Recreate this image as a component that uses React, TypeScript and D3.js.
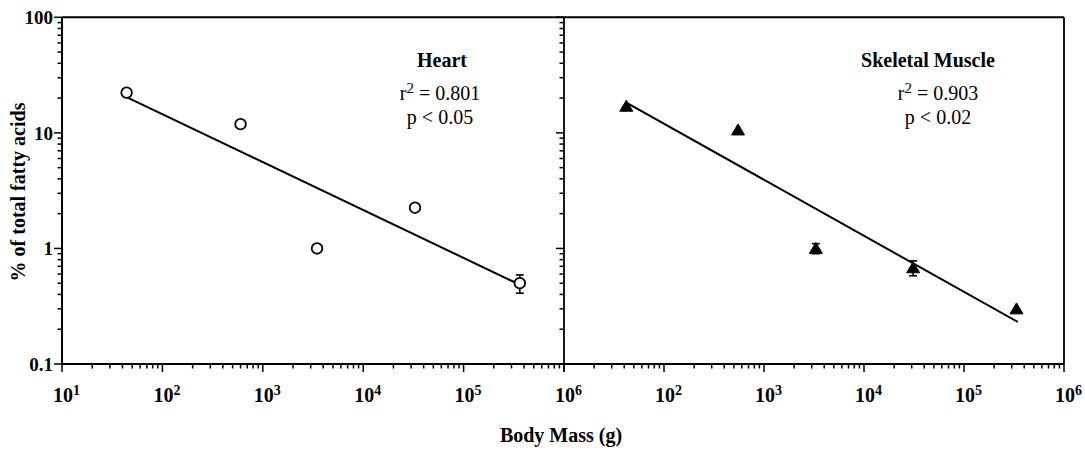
import React from "react";
import * as d3 from "d3";

// ---- data ----
const heartMass = [44, 600, 3470, 32800, 363000];
const heartPct = [22.3, 11.9, 1.0, 2.25, 0.5];
const heartErr = [0, 0, 0, 0, 0.09];
const heartFitRange = [45, 330000];

const muscleMass = [42, 550, 3300, 31000, 335000];
const musclePct = [17, 10.6, 1.0, 0.68, 0.3];
const muscleErr = [0, 0, 0.1, 0.1, 0];
const muscleFitRange = [42, 345000];

const leftTickExps = [1, 2, 3, 4, 5, 6];
const rightTickExps = [2, 3, 4, 5, 6];
const yTickValues = [0.1, 1, 10, 100];
const yTickLabels = ["0.1", "1", "10", "100"];

const panelTitles = ["Heart", "Skeletal Muscle"];
const panelR2 = ["0.801", "0.903"];
const panelP = ["p < 0.05", "p < 0.02"];

const xTitle = "Body Mass (g)";
const yTitle = "% of total fatty acids";

// ---- layout ----
const W = 1085;
const H = 454;
const top = 17.3;
const bottom = 364;
const leftX0 = 62;
const midX = 564;
const rightX1 = 1064;
const FONT = "'Liberation Serif', 'DejaVu Serif', serif";

function fit(xs: number[], ys: number[]) {
  const lx = xs.map(Math.log10);
  const ly = ys.map(Math.log10);
  const mx = d3.mean(lx) as number;
  const my = d3.mean(ly) as number;
  let sxy = 0, sxx = 0;
  lx.forEach((v, i) => {
    sxy += (v - mx) * (ly[i] - my);
    sxx += (v - mx) * (v - mx);
  });
  const slope = sxy / sxx;
  return (x: number) => Math.pow(10, my + slope * (Math.log10(x) - mx));
}

const y = d3.scaleLog().domain([0.1, 100]).range([bottom, top]);
const xL = d3.scaleLog().domain([10, 1e6]).range([leftX0, midX]);
const xR = d3.scaleLog().domain([10, 1e6]).range([midX, rightX1]);

function minorTicks(lo: number, hi: number) {
  const out: number[] = [];
  for (let e = lo; e < hi; e++) {
    for (let m = 2; m <= 9; m++) out.push(m * Math.pow(10, e));
  }
  return out;
}

function Panel({ x, mass, pct, err, fitRange, kind, titleX, lineX, idx }: any) {
  const f = fit(mass, pct);
  const line = d3
    .line<number>()
    .x((d) => x(d))
    .y((d) => y(f(d)));
  return (
    <g>
      <path d={line(fitRange) as string} fill="none" stroke="#000" strokeWidth={2} />
      {mass.map((m: number, i: number) =>
        err[i] > 0 ? (
          <g key={"e" + i} stroke="#000" strokeWidth={1.6}>
            <line x1={x(m)} x2={x(m)} y1={y(pct[i] + err[i])} y2={y(pct[i] - err[i])} />
            <line x1={x(m) - 4} x2={x(m) + 4} y1={y(pct[i] + err[i])} y2={y(pct[i] + err[i])} />
            <line x1={x(m) - 4} x2={x(m) + 4} y1={y(pct[i] - err[i])} y2={y(pct[i] - err[i])} />
          </g>
        ) : null
      )}
      {mass.map((m: number, i: number) => {
        const cx = x(m);
        const cy = y(pct[i]);
        if (kind === "circle")
          return <circle key={i} cx={cx} cy={cy} r={5.3} fill="#fff" stroke="#000" strokeWidth={1.8} />;
        const p = d3.path();
        p.moveTo(cx, cy - 6);
        p.lineTo(cx + 6.5, cy + 5);
        p.lineTo(cx - 6.5, cy + 5);
        p.closePath();
        return <path key={i} d={p.toString()} fill="#000" stroke="#000" strokeWidth={1} />;
      })}
      <text x={titleX} y={67} textAnchor="middle" fontFamily={FONT} fontWeight="bold" fontSize={20}>
        {panelTitles[idx]}
      </text>
      <text x={lineX} y={100} textAnchor="middle" fontFamily={FONT} fontSize={20}>
        r<tspan dy={-7} fontSize={15}>2</tspan>
        <tspan dy={7}> = {panelR2[idx]}</tspan>
      </text>
      <text x={lineX} y={124} textAnchor="middle" fontFamily={FONT} fontSize={20}>
        {panelP[idx]}
      </text>
    </g>
  );
}

export default function App() {
  const majorLen = 8;
  const minorLen = 4.5;
  const yMinor = minorTicks(-1, 2);
  const xMinor = minorTicks(1, 6);
  return (
    <svg
      width={W}
      height={H}
      style={{ position: "absolute", left: 0, top: 0, background: "#fff" }}
      fontFamily={FONT}
    >
      <rect width={W} height={H} fill="#fff" />
      {/* frame */}
      <g stroke="#000" fill="none">
        <line x1={leftX0} x2={rightX1} y1={top} y2={top} strokeWidth={2} />
        <line x1={leftX0} x2={rightX1} y1={bottom} y2={bottom} strokeWidth={2} />
        <line x1={leftX0} x2={leftX0} y1={top} y2={bottom} strokeWidth={2} />
        <line x1={midX} x2={midX} y1={top} y2={bottom} strokeWidth={1.8} />
        <line x1={rightX1} x2={rightX1} y1={top} y2={bottom} strokeWidth={1.8} />
      </g>
      {/* y ticks on both panel axes */}
      {[leftX0, midX].map((ax) => (
        <g key={ax} stroke="#000" strokeWidth={1.5}>
          {yTickValues.map((v) => (
            <line key={v} x1={ax - majorLen} x2={ax} y1={y(v)} y2={y(v)} />
          ))}
          {yMinor.map((v) => (
            <line key={v} x1={ax - minorLen} x2={ax} y1={y(v)} y2={y(v)} />
          ))}
        </g>
      ))}
      {/* y tick labels */}
      {yTickValues.map((v, i) => (
        <text
          key={v}
          x={leftX0 - 9}
          y={y(v)}
          dy="0.35em"
          textAnchor="end"
          fontWeight="bold"
          fontSize={19}
        >
          {yTickLabels[i]}
        </text>
      ))}
      {/* x ticks */}
      {[xL, xR].map((sx, k) => (
        <g key={k} stroke="#000" strokeWidth={1.5}>
          {leftTickExps.map((e) => (
            <line key={e} x1={sx(Math.pow(10, e))} x2={sx(Math.pow(10, e))} y1={bottom} y2={bottom + majorLen} />
          ))}
          {xMinor.map((v) => (
            <line key={v} x1={sx(v)} x2={sx(v)} y1={bottom} y2={bottom + minorLen} />
          ))}
        </g>
      ))}
      {/* x tick labels */}
      {[
        { sx: xL, exps: leftTickExps },
        { sx: xR, exps: rightTickExps },
      ].map(({ sx, exps }, k) =>
        exps.map((e) => (
          <text key={k + "-" + e} x={sx(Math.pow(10, e)) - 9} y={402} fontWeight="bold" fontSize={20}>
            10
            <tspan dy={-7} fontSize={14}>
              {e}
            </tspan>
          </text>
        ))
      )}
      <Panel
        x={xL}
        mass={heartMass}
        pct={heartPct}
        err={heartErr}
        fitRange={heartFitRange}
        kind="circle"
        titleX={442}
        lineX={440}
        idx={0}
      />
      <Panel
        x={xR}
        mass={muscleMass}
        pct={musclePct}
        err={muscleErr}
        fitRange={muscleFitRange}
        kind="triangle"
        titleX={928}
        lineX={938}
        idx={1}
      />
      {/* axis titles */}
      <text x={561} y={442} textAnchor="middle" fontWeight="bold" fontSize={20}>
        {xTitle}
      </text>
      <text
        transform={`translate(25, 192) rotate(-90)`}
        textAnchor="middle"
        fontWeight="bold"
        fontSize={20}
      >
        {yTitle}
      </text>
    </svg>
  );
}
